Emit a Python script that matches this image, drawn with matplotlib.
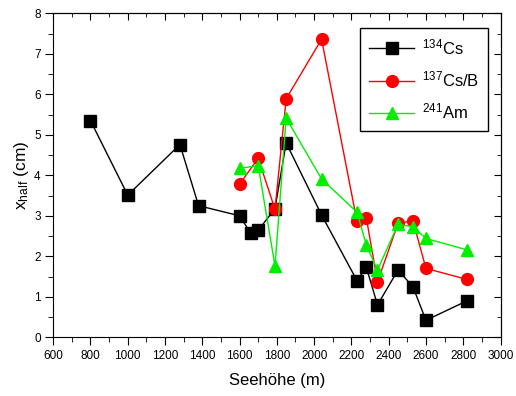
import numpy as np
import matplotlib
matplotlib.use('agg')
import matplotlib.pyplot as plt
from matplotlib.ticker import MultipleLocator

plt.rcParams['font.family'] = ['Liberation Sans', 'DejaVu Sans']
plt.rcParams['mathtext.fontset'] = 'custom'
plt.rcParams['mathtext.rm'] = 'Liberation Sans'
plt.rcParams['mathtext.it'] = 'Liberation Sans'

# 134Cs
cs134_x = [800, 1000, 1280, 1380, 1600, 1660, 1700, 1790, 1850, 2040, 2230, 2280, 2340, 2450, 2530, 2600, 2820]
cs134_y = [5.35, 3.51, 4.76, 3.25, 3.0, 2.57, 2.64, 3.18, 4.8, 3.02, 1.40, 1.73, 0.80, 1.66, 1.25, 0.42, 0.90]
# 137Cs/B
cs137_x = [1600, 1700, 1790, 1850, 2040, 2230, 2280, 2340, 2450, 2530, 2600, 2820]
cs137_y = [3.78, 4.42, 3.16, 5.89, 7.36, 2.86, 2.95, 1.37, 2.81, 2.88, 1.70, 1.43]
# 241Am
am241_x = [1600, 1700, 1790, 1850, 2040, 2230, 2280, 2340, 2450, 2530, 2600, 2820]
am241_y = [4.17, 4.24, 1.76, 5.41, 3.91, 3.09, 2.28, 1.66, 2.79, 2.73, 2.44, 2.16]

fig = plt.figure(figsize=(5.16, 3.96), dpi=100)
ax = fig.add_axes([53.2/516, 1-337.3/396, (500.5-53.2)/516, (337.3-13.3)/396])

ax.plot(cs134_x, cs134_y, color='black', lw=1, marker='s', ms=8, label=r'$^{134}$Cs')
ax.plot(cs137_x, cs137_y, color='red', lw=1, marker='o', ms=8.5, label=r'$^{137}$Cs/B')
ax.plot(am241_x, am241_y, color='#00ee00', lw=1, marker='^', ms=9, label=r'$^{241}$Am')

ax.set_xlim(600, 3000)
ax.set_ylim(0, 8)
ax.xaxis.set_major_locator(MultipleLocator(200))
ax.xaxis.set_minor_locator(MultipleLocator(100))
ax.yaxis.set_major_locator(MultipleLocator(1))
ax.yaxis.set_minor_locator(MultipleLocator(0.5))

# outward ticks on bottom/left, inward mirrored ticks on top/right
ax.tick_params(which='both', direction='out', labelsize=8.5, pad=3)
ax.tick_params(which='major', length=6)
ax.tick_params(which='minor', length=3.5)
sec_x = ax.secondary_xaxis('top')
sec_x.xaxis.set_major_locator(MultipleLocator(200))
sec_x.xaxis.set_minor_locator(MultipleLocator(100))
sec_x.tick_params(which='both', direction='in', labeltop=False)
sec_x.tick_params(which='major', length=5)
sec_x.tick_params(which='minor', length=3)
sec_y = ax.secondary_yaxis('right')
sec_y.yaxis.set_major_locator(MultipleLocator(1))
sec_y.yaxis.set_minor_locator(MultipleLocator(0.5))
sec_y.tick_params(which='both', direction='in', labelright=False)
sec_y.tick_params(which='major', length=5)
sec_y.tick_params(which='minor', length=3)

ax.set_xlabel('Seehöhe (m)', fontsize=12, labelpad=8)
ax.set_ylabel(r'x$_{\rm half}$ (cm)', fontsize=12.5, labelpad=2)

leg = ax.legend(loc='upper left', bbox_to_anchor=(0.686, 0.955), fontsize=12,
                fancybox=False, edgecolor='black', framealpha=1,
                handlelength=2.7, borderpad=0.55, labelspacing=0.75,
                handletextpad=0.45, borderaxespad=0)
leg.get_frame().set_linewidth(1)

fig.savefig('out.png', dpi=100)
